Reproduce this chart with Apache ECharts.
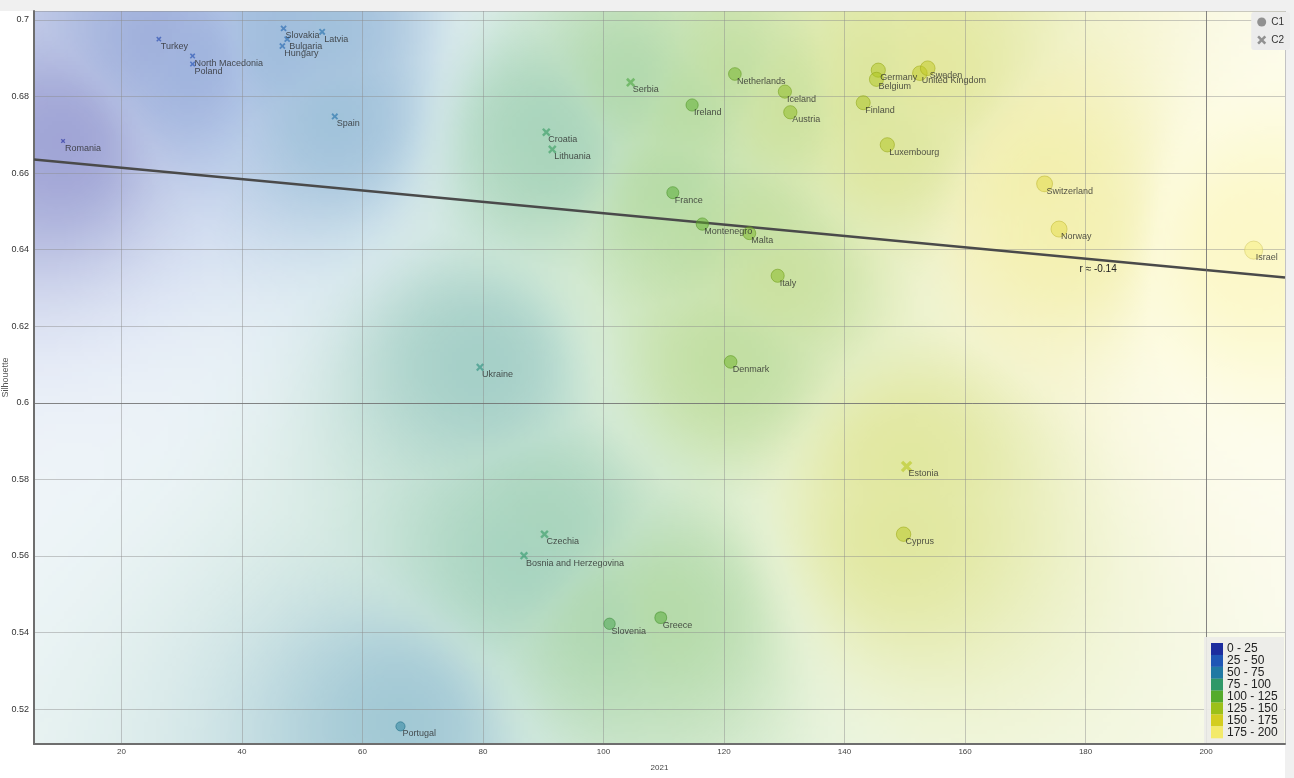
<!DOCTYPE html>
<html>
<head>
<meta charset="utf-8">
<script src="https://cdn.jsdelivr.net/npm/echarts@6/dist/echarts.min.js"></script>
<style>
  html, body { margin: 0; padding: 0; background: #ffffff; }
  #chart { width: 1294px; height: 778px; }
</style>
</head>
<body>
<div id="chart"></div>
<script>
// ---- data -------------------------------------------------------------
// Cluster C1 (circles)
const c1Names = ['Netherlands', 'Ireland', 'Iceland', 'Austria', 'Germany', 'Belgium', 'Finland',
  'Luxembourg', 'United Kingdom', 'Sweden', 'Switzerland', 'Norway', 'Israel', 'France',
  'Montenegro', 'Malta', 'Italy', 'Denmark', 'Cyprus', 'Slovenia', 'Greece', 'Portugal'];
const c1X = [121.8, 114.7, 130.1, 131.0, 145.6, 145.3, 143.1,
  147.1, 152.5, 153.8, 173.2, 175.6, 207.9, 111.5,
  116.4, 124.2, 128.9, 121.1, 149.8, 101.0, 109.5, 66.3];
const c1Y = [0.6859, 0.6778, 0.6813, 0.6759, 0.6869, 0.6845, 0.6784,
  0.6674, 0.6861, 0.6874, 0.6572, 0.6454, 0.6399, 0.6549,
  0.6467, 0.6443, 0.6332, 0.6107, 0.5657, 0.5423, 0.5439, 0.5155];

// Cluster C2 (crosses)
const c2Names = ['Romania', 'Turkey', 'North Macedonia', 'Poland', 'Slovakia', 'Bulgaria', 'Hungary',
  'Latvia', 'Spain', 'Serbia', 'Croatia', 'Lithuania', 'Ukraine', 'Czechia',
  'Bosnia and Herzegovina', 'Estonia'];
const c2X = [10.3, 26.2, 31.8, 31.8, 46.9, 47.5, 46.7,
  53.3, 55.4, 104.5, 90.5, 91.5, 79.5, 90.2,
  86.8, 150.3];
const c2Y = [0.6684, 0.6950, 0.6906, 0.6885, 0.6978, 0.6950, 0.6932,
  0.6969, 0.6748, 0.6837, 0.6707, 0.6662, 0.6093, 0.5657,
  0.5601, 0.5834];

// Colour legend bins for the 2021 value
const binLabels = ['0 - 25', '25 - 50', '50 - 75', '75 - 100', '100 - 125', '125 - 150', '150 - 175', '175 - 200'];
const binColors = ['#1c2c9e', '#1f56b5', '#2079a3', '#2f9868', '#55ab2c', '#9cc019', '#d3cd20', '#f3ea6a'];

const xRange = [5.48, 213.1];
const yRange = [0.5109, 0.70235];
const majorGridX = [200];
const majorGridY = [0.6];

// ---- helpers ----------------------------------------------------------
const FONT = "'Liberation Sans', sans-serif";

const cmapStops = [
  [0, [42, 24, 152]],
  [12.5, hex(binColors[0])], [37.5, hex(binColors[1])], [62.5, hex(binColors[2])],
  [87.5, hex(binColors[3])], [112.5, hex(binColors[4])], [137.5, hex(binColors[5])],
  [162.5, hex(binColors[6])], [187.5, hex(binColors[7])], [215, [248, 240, 130]]
];
function hex(h) {
  return [parseInt(h.slice(1, 3), 16), parseInt(h.slice(3, 5), 16), parseInt(h.slice(5, 7), 16)];
}
function cmap(v) {
  if (v <= cmapStops[0][0]) return cmapStops[0][1].slice();
  for (let i = 1; i < cmapStops.length; i++) {
    const [v1, c1] = cmapStops[i];
    if (v <= v1) {
      const [v0, c0] = cmapStops[i - 1];
      const t = (v - v0) / (v1 - v0);
      return [0, 1, 2].map(k => Math.round(c0[k] + (c1[k] - c0[k]) * t));
    }
  }
  return cmapStops[cmapStops.length - 1][1].slice();
}
function rgba(c, a) { return `rgba(${c[0]},${c[1]},${c[2]},${a})`; }
function darker(c, f) { return c.map(x => Math.round(x * f)); }

const crossPath = 'path://M2,0 L5,3 L8,0 L10,2 L7,5 L10,8 L8,10 L5,7 L2,10 L0,8 L3,5 L0,2 Z';

function circleItems() {
  return c1Names.map((n, i) => {
    const c = cmap(c1X[i]);
    return {
      name: n, value: [c1X[i], c1Y[i]],
      symbolSize: 5 + 0.063 * c1X[i],
      itemStyle: { color: rgba(c, 0.62), borderColor: rgba(darker(c, 0.85), 0.7), borderWidth: 1 }
    };
  });
}
function crossItems() {
  return c2Names.map((n, i) => {
    const c = cmap(c2X[i]);
    return {
      name: n, value: [c2X[i], c2Y[i]],
      symbolSize: 4 + 0.05 * c2X[i],
      itemStyle: { color: rgba(c, 0.75) }
    };
  });
}

// least-squares fit over every point
const allX = c1X.concat(c2X), allY = c1Y.concat(c2Y);
const nPts = allX.length;
const mx = allX.reduce((a, b) => a + b, 0) / nPts;
const my = allY.reduce((a, b) => a + b, 0) / nPts;
let sxx = 0, sxy = 0, syy = 0;
for (let i = 0; i < nPts; i++) {
  sxx += (allX[i] - mx) ** 2; sxy += (allX[i] - mx) * (allY[i] - my); syy += (allY[i] - my) ** 2;
}
const slope = sxy / sxx;
const intercept = my - slope * mx;
const rVal = sxy / Math.sqrt(sxx * syy);
const fitY = x => intercept + slope * x;

// smooth colour field from the points, computed in pixel space
let fieldCache = null;
function fieldCanvas(pts, W, H) {
  const key = W + 'x' + H;
  if (fieldCache && fieldCache.key === key) return fieldCache.cv;
  const cell = 4;
  const cw = Math.ceil(W / cell), ch = Math.ceil(H / cell);
  const cv = document.createElement('canvas');
  cv.width = cw; cv.height = ch;
  const ctx = cv.getContext('2d');
  const img = ctx.createImageData(cw, ch);
  const ws = new Array(pts.length);
  for (let j = 0; j < ch; j++) {
    for (let i = 0; i < cw; i++) {
      const px = (i + 0.5) * cell, py = (j + 0.5) * cell;
      let sw = 0, sm = 0, dn = 1e12;
      for (let k = 0; k < pts.length; k++) {
        const d2 = (pts[k][0] - px) ** 2 + (pts[k][1] - py) ** 2;
        if (d2 < dn) dn = d2;
        const w = 1 / Math.pow(d2 + 900, 2.2);
        ws[k] = w; sw += w; sm += w * pts[k][2];
      }
      const m = sm / sw;
      let sv = 0;
      for (let k = 0; k < pts.length; k++) sv += ws[k] * (pts[k][2] - m) ** 2;
      const sd = Math.sqrt(sv / sw);
      const near = Math.sqrt(dn);
      const a = 0.42 * Math.exp(-((sd / 36) ** 2)) * (0.55 + 0.45 * Math.exp(-((near / 150) ** 2)));
      const c = cmap(m);
      const idx = (j * cw + i) * 4;
      img.data[idx] = c[0]; img.data[idx + 1] = c[1]; img.data[idx + 2] = c[2];
      img.data[idx + 3] = Math.round(a * 255);
    }
  }
  ctx.putImageData(img, 0, 0);
  fieldCache = { key, cv };
  return cv;
}

// ---- chart ------------------------------------------------------------
const chart = echarts.init(document.getElementById('chart'), null, { renderer: 'canvas' });

const legendGraphics = [];
legendGraphics.push({
  type: 'rect', left: 1204, top: 637, z: 50,
  shape: { width: 80, height: 106 },
  style: { fill: 'rgba(236,236,232,0.92)' }
});
binLabels.forEach((lab, i) => {
  legendGraphics.push({
    type: 'rect', left: 1211, top: 643 + i * 11.9, z: 51,
    shape: { width: 12, height: 12 },
    style: { fill: binColors[i] }
  });
  legendGraphics.push({
    type: 'text', left: 1227, top: 643 + i * 11.9, z: 51,
    style: { text: lab, fill: '#222', font: `12px ${FONT}` }
  });
});

const option = {
  animation: false,
  backgroundColor: '#ffffff',
  grid: { left: 34, right: 9, top: 11, bottom: 34, containLabel: false, outerBoundsMode: 'none' },
  graphic: [
    { type: 'rect', left: 0, top: 0, z: -10, shape: { width: 1294, height: 11 }, style: { fill: '#f0f0f0' } },
    { type: 'rect', left: 1285, top: 0, z: -10, shape: { width: 9, height: 778 }, style: { fill: '#f0f0f0' } }
  ].concat(legendGraphics),
  legend: {
    data: ['C1', 'C2'],
    orient: 'vertical',
    right: 4, top: 12,
    backgroundColor: '#ececec',
    borderRadius: 3,
    padding: [5, 6, 5, 6],
    itemWidth: 9, itemHeight: 9, itemGap: 8,
    textStyle: { fontSize: 10, color: '#333', fontFamily: FONT },
    selectedMode: false
  },
  xAxis: {
    type: 'value', min: xRange[0], max: xRange[1],
    minInterval: 20, maxInterval: 20, splitNumber: 10,
    name: '2021', nameLocation: 'middle', nameGap: 20, nameMoveOverlap: false,
    nameTextStyle: { fontSize: 8, color: '#444', fontFamily: FONT },
    axisLine: { show: true, onZero: false, lineStyle: { color: '#6e6e6e', width: 2 } },
    axisTick: { show: false },
    axisLabel: { fontSize: 8, color: '#444', margin: 4, showMinLabel: false, showMaxLabel: false, fontFamily: FONT },
    splitLine: { show: true, lineStyle: { color: 'rgba(140,140,140,0.45)', width: 1 } }
  },
  yAxis: {
    type: 'value', min: yRange[0], max: yRange[1],
    minInterval: 0.02, maxInterval: 0.02, splitNumber: 10,
    name: 'Silhouette', nameLocation: 'middle', nameGap: 24, nameRotate: 90, nameMoveOverlap: false,
    nameTextStyle: { fontSize: 9, color: '#555', fontFamily: FONT },
    axisLine: { show: true, onZero: false, lineStyle: { color: '#6e6e6e', width: 2 } },
    axisTick: { show: false },
    axisLabel: { fontSize: 9, color: '#333', margin: 5, showMinLabel: false, showMaxLabel: false, fontFamily: FONT },
    splitLine: { show: true, lineStyle: { color: 'rgba(140,140,140,0.45)', width: 1 } }
  },
  series: [
    {
      type: 'custom', name: 'density', silent: true, z: -1,
      data: [[xRange[0], yRange[1]]],
      renderItem: function (params, api) {
        const p0 = api.coord([xRange[0], yRange[1]]);
        const p1 = api.coord([xRange[1], yRange[0]]);
        const W = p1[0] - p0[0], H = p1[1] - p0[1];
        const pts = allX.map((x, i) => {
          const c = api.coord([x, allY[i]]);
          return [c[0] - p0[0], c[1] - p0[1], x];
        });
        return {
          type: 'image',
          style: { image: fieldCanvas(pts, W, H), x: p0[0], y: p0[1], width: W, height: H }
        };
      }
    },
    {
      type: 'line', name: 'fit', silent: true, z: 1,
      data: [[xRange[0], fitY(xRange[0])], [xRange[1], fitY(xRange[1])]],
      symbol: 'none',
      lineStyle: { color: '#4a4a4a', width: 2.6 },
      markLine: {
        silent: true, symbol: 'none', label: { show: false },
        lineStyle: { color: 'rgba(110,110,110,0.75)', width: 1, type: 'solid' },
        data: majorGridX.map(v => ({ xAxis: v })).concat(majorGridY.map(v => ({ yAxis: v })))
      },
      markPoint: {
        silent: true, symbol: 'circle', symbolSize: 0,
        data: [{ coord: [179, fitY(179)] }],
        label: {
          show: true, position: 'inside', align: 'left', verticalAlign: 'middle', offset: [0, 11],
          formatter: () => 'r ≈ ' + rVal.toFixed(2),
          fontSize: 10, color: '#222', fontFamily: FONT
        }
      }
    },
    {
      type: 'scatter', name: 'C1', symbol: 'circle', z: 3,
      itemStyle: { color: '#7a7a7a' },
      data: circleItems(),
      label: {
        show: true, formatter: p => p.name, position: 'inside', align: 'left', verticalAlign: 'top',
        offset: [2, 3], fontSize: 9, color: '#2a2a2a', fontFamily: FONT
      }
    },
    {
      type: 'scatter', name: 'C2', symbol: crossPath, z: 3,
      itemStyle: { color: '#7a7a7a' },
      data: crossItems(),
      label: {
        show: true, formatter: p => p.name, position: 'inside', align: 'left', verticalAlign: 'top',
        offset: [2, 3], fontSize: 9, color: '#2a2a2a', fontFamily: FONT
      }
    }
  ]
};
chart.setOption(option);
</script>
</body>
</html>
